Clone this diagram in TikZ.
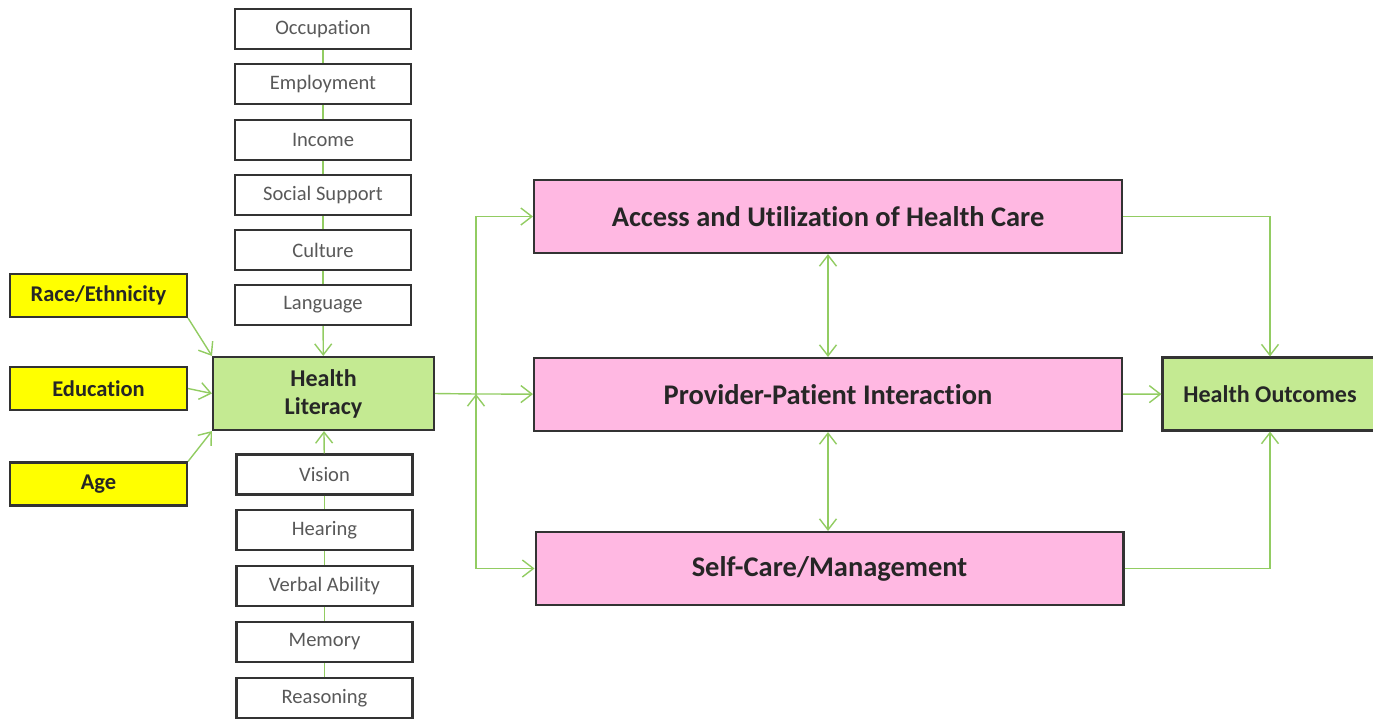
\documentclass[tikz,border=0pt]{standalone}
\usepackage{fontspec}
\setmainfont{Carlito}[Ligatures={NoCommon}]
\usetikzlibrary{arrows.meta}

\definecolor{linkgreen}{RGB}{146,204,98}
\definecolor{boxgreen}{RGB}{196,234,146}
\definecolor{boxpink}{RGB}{255,184,226}
\definecolor{boxyellow}{RGB}{255,255,0}
\definecolor{txtgray}{RGB}{89,89,89}
\definecolor{txtdark}{RGB}{38,38,38}

\tikzset{
  factor/.style={draw=black!80,line width=1.2pt,fill=white,minimum width=3.52cm,minimum height=0.8cm,
    text=txtgray,font=\fontsize{11.7}{13}\selectfont,inner sep=0pt},
  demo/.style={draw=black!80,line width=1.2pt,fill=boxyellow,minimum width=3.54cm,minimum height=0.86cm,
    text=txtdark,font=\fontsize{12.8}{14}\selectfont\bfseries,inner sep=0pt},
  hlbox/.style={draw=black!80,line width=1.2pt,fill=boxgreen,minimum height=1.46cm,
    text=txtdark,font=\fontsize{13.7}{16}\selectfont\bfseries,align=center,inner sep=0pt},
  pathway/.style={draw=black!80,line width=1.2pt,fill=boxpink,minimum width=11.76cm,minimum height=1.46cm,
    text=txtdark,font=\fontsize{16.2}{18}\selectfont\bfseries,inner sep=0pt},
  link/.style={draw=linkgreen,line width=0.8pt},
  arr/.style={link,-{Straight Barb[length=2.2mm,width=3.4mm]}},
  darr/.style={link,{Straight Barb[length=2.2mm,width=3.4mm]}-{Straight Barb[length=2.2mm,width=3.4mm]}}
}

\begin{document}
\begin{tikzpicture}[x=0.02cm,y=-0.02cm]
        \useasboundingbox (0,0) rectangle (1373,718);

        % social factors above
        \node[factor] at (323,29) (occ) {Occupation};
        \node[factor] at (323,84) (emp) {Employment};
        \node[factor] at (323,140) (inc) {Income};
        \node[factor] at (323,195) (soc) {Social Support};
        \node[factor] at (323,250) (cul) {Culture};
        \node[factor] at (323,305) (lan) {Language};

        % abilities below
        \node[factor] at (324.5,474.5) (vis) {Vision};
        \node[factor] at (324.5,530) (hea) {Hearing};
        \node[factor] at (324.5,586) (ver) {Verbal Ability};
        \node[factor] at (324.5,642) (mem) {Memory};
        \node[factor] at (324.5,698) (rea) {Reasoning};

        \node[demo] at (98.5,295.5) (race) {Race/Ethnicity};
        \node[demo] at (98.5,388.5) (edu) {Education};
        \node[demo] at (98.5,484) (age) {Age};

        \node[hlbox,minimum width=4.42cm] at (323.5,393.5) (hl) {Health\\Literacy};

        \node[pathway] at (828,216.5) (acc) {Access and Utilization of Health Care};
        \node[pathway] at (828,394.5) (ppi) {Provider-Patient Interaction};
        \node[pathway] at (829.5,568.5) (scm) {Self-Care/Management};

        \node[hlbox,minimum width=4.3cm] at (1270,394) (out) {Health Outcomes};

        \coordinate (split) at (476,394);

        \path[link]
        (occ) edge (emp)
        (emp) edge (inc)
        (inc) edge (soc)
        (soc) edge (cul)
        (cul) edge (lan)

        (vis) edge (hea)
        (hea) edge (ver)
        (ver) edge (mem)
        (mem) edge (rea)

        (hl.east) edge (split);

        \path[arr]
        (lan) edge (hl)
        (vis) edge (hl)

        (race.south east) edge (hl.north west)
        (edu.east) edge (hl.west)
        (age.north east) edge (hl.south west)

        (split) edge (ppi)
        (ppi) edge (out);

        \draw[arr] (split) |- (acc);
        \draw[arr] (split) |- (scm);
        \draw[arr] (acc) -| (out);
        \draw[arr] (scm) -| (out);

        \path[darr]
        (acc) edge (ppi)
        (ppi) edge (scm.north -| ppi);

    \end{tikzpicture}
\end{document}
